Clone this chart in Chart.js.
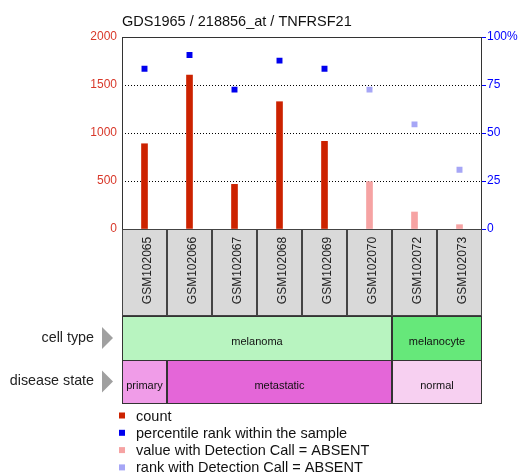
<!DOCTYPE html>
<html>
<head>
<meta charset="utf-8">
<script src="https://cdn.jsdelivr.net/npm/chart.js@4/dist/chart.umd.min.js"></script>
<style>
  html, body { margin: 0; padding: 0; background: #fff; }
  canvas { display: block; }
</style>
</head>
<body>
<canvas id="c" width="518" height="474"></canvas>
<script>
// ---- data ----
const titleText = 'GDS1965 / 218856_at / TNFRSF21';
const samples = ['GSM102065', 'GSM102066', 'GSM102067', 'GSM102068', 'GSM102069', 'GSM102070', 'GSM102072', 'GSM102073'];
const counts = [888, 1604, 465, 1326, 913, 493, 177, 45];
const percentiles = [83.5, 90.6, 72.6, 87.7, 83.5, 72.6, 54.5, 30.9];
const absentCall = [false, false, false, false, false, true, true, true];
const cellType = ['melanoma', 'melanoma', 'melanoma', 'melanoma', 'melanoma', 'melanoma', 'melanocyte', 'melanocyte'];
const diseaseState = ['primary', 'metastatic', 'metastatic', 'metastatic', 'metastatic', 'metastatic', 'normal', 'normal'];
const countTicks = [0, 500, 1000, 1500, 2000];
const rankTicks = [0, 25, 50, 75, 100];
const legendLabels = ['count', 'percentile rank within the sample', 'value with Detection Call = ABSENT', 'rank with Detection Call = ABSENT'];

// ---- styles ----
const FONT = '"Liberation Sans", Arial, sans-serif';
const colors = {
  count: '#cc2200',
  rank: '#0000ee',
  countAbsent: '#f6a3a3',
  rankAbsent: '#a6a6f6',
  leftTick: '#d8382a',
  rightTick: '#0000ff'
};
const groupColors = {
  melanoma: '#b8f4c0',
  melanocyte: '#66e87a',
  primary: '#f09ce8',
  metastatic: '#e466d8',
  normal: '#f7d0f1'
};

const presentCounts = counts.map((v, i) => absentCall[i] ? null : v);
const absentCounts = counts.map((v, i) => absentCall[i] ? v : null);
const presentRanks = percentiles.map((v, i) => absentCall[i] ? null : v);
const absentRanks = percentiles.map((v, i) => absentCall[i] ? v : null);

// contiguous runs of equal values -> [{label, from, to}]
function runs(arr) {
  const out = [];
  arr.forEach((v, i) => {
    const last = out[out.length - 1];
    if (last && last.label === v) last.to = i; else out.push({ label: v, from: i, to: i });
  });
  return out;
}

const decorations = {
  id: 'decorations',
  afterDraw(chart) {
    const ctx = chart.ctx;
    const area = chart.chartArea;
    const xs = chart.scales.x;
    const band = (area.right - area.left) / samples.length;
    const colLeft = i => xs.getPixelForValue(i) - band / 2;
    const colRight = i => xs.getPixelForValue(i) + band / 2;

    ctx.save();

    // title
    ctx.fillStyle = '#111';
    ctx.font = '14.5px ' + FONT;
    ctx.textAlign = 'left';
    ctx.textBaseline = 'alphabetic';
    ctx.fillText(titleText, area.left, 26);

    // plot frame
    ctx.strokeStyle = '#333';
    ctx.lineWidth = 1;
    ctx.strokeRect(Math.round(area.left) + 0.5, Math.round(area.top) + 0.5,
      Math.round(area.right - area.left) - 1, Math.round(area.bottom - area.top));

    // sample name boxes
    const boxTop = area.bottom + 0.5;
    const boxBottom = 315.5;
    samples.forEach((name, i) => {
      const x0 = Math.round(colLeft(i)) + 0.5;
      const x1 = Math.round(colRight(i)) - 0.5;
      ctx.fillStyle = '#d9d9d9';
      ctx.fillRect(x0, boxTop, x1 - x0, boxBottom - boxTop);
      ctx.strokeStyle = '#444';
      ctx.strokeRect(x0, boxTop, x1 - x0, boxBottom - boxTop);
      ctx.save();
      ctx.translate(xs.getPixelForValue(i) + 3, (boxTop + boxBottom) / 2 - 2);
      ctx.rotate(-Math.PI / 2);
      ctx.fillStyle = '#222';
      ctx.font = '12px ' + FONT;
      ctx.textAlign = 'center';
      ctx.textBaseline = 'middle';
      ctx.fillText(name, 0, 0);
      ctx.restore();
    });

    // annotation rows
    const rows = [
      { title: 'cell type', values: cellType, top: 316, bottom: 360 },
      { title: 'disease state', values: diseaseState, top: 360, bottom: 403 }
    ];
    rows.forEach(row => {
      runs(row.values).forEach(r => {
        const x0 = Math.round(colLeft(r.from)) + 0.5;
        const x1 = Math.round(colRight(r.to)) - 0.5;
        ctx.fillStyle = groupColors[r.label];
        ctx.fillRect(x0, row.top + 0.5, x1 - x0, row.bottom - row.top);
        ctx.strokeStyle = '#333';
        ctx.strokeRect(x0, row.top + 0.5, x1 - x0, row.bottom - row.top);
        ctx.fillStyle = '#111';
        ctx.font = '11px ' + FONT;
        ctx.textAlign = 'center';
        ctx.textBaseline = 'middle';
        ctx.fillText(r.label, (x0 + x1) / 2, (row.top + row.bottom) / 2 + 4);
      });
      const cy = (row.top + row.bottom) / 2;
      ctx.fillStyle = '#222';
      ctx.font = '14.3px ' + FONT;
      ctx.textAlign = 'right';
      ctx.textBaseline = 'middle';
      ctx.fillText(row.title, 94, cy);
      ctx.fillStyle = '#a0a0a0';
      ctx.beginPath();
      ctx.moveTo(102, cy - 11);
      ctx.lineTo(113, cy);
      ctx.lineTo(102, cy + 11);
      ctx.closePath();
      ctx.fill();
    });

    // legend
    const legendColors = [colors.count, colors.rank, colors.countAbsent, colors.rankAbsent];
    legendLabels.forEach((label, i) => {
      const cy = 415.5 + i * 17.3;
      ctx.fillStyle = legendColors[i];
      ctx.fillRect(119, cy - 3, 6, 6);
      ctx.fillStyle = '#111';
      ctx.font = '14.5px ' + FONT;
      ctx.textAlign = 'left';
      ctx.textBaseline = 'middle';
      ctx.fillText(label, 136, cy + 1);
    });

    ctx.restore();
  }
};

new Chart(document.getElementById('c'), {
  data: {
    labels: samples,
    datasets: [
      { type: 'line', label: legendLabels[1], data: presentRanks, yAxisID: 'y1', showLine: false,
        pointStyle: 'rect', pointRadius: 4.2, pointBackgroundColor: colors.rank, pointBorderWidth: 0, order: 0 },
      { type: 'line', label: legendLabels[3], data: absentRanks, yAxisID: 'y1', showLine: false,
        pointStyle: 'rect', pointRadius: 4.2, pointBackgroundColor: colors.rankAbsent, pointBorderWidth: 0, order: 0 },
      { type: 'bar', label: legendLabels[0], data: presentCounts, yAxisID: 'y', backgroundColor: colors.count,
        barThickness: 6, grouped: false, order: 1 },
      { type: 'bar', label: legendLabels[2], data: absentCounts, yAxisID: 'y', backgroundColor: colors.countAbsent,
        barThickness: 6, grouped: false, order: 1 }
    ]
  },
  options: {
    responsive: false,
    animation: false,
    layout: { padding: { top: 37, bottom: 245, left: 0, right: 0 } },
    plugins: { legend: { display: false }, tooltip: { enabled: false }, title: { display: false } },
    scales: {
      x: { type: 'category', display: false, offset: true },
      y: {
        position: 'left', min: 0, max: 2000,
        afterBuildTicks: s => { s.ticks = countTicks.map(v => ({ value: v })); },
        ticks: { color: colors.leftTick, font: { family: FONT, size: 12 }, padding: 5,
          callback: v => String(v) },
        grid: {
          drawTicks: false, lineWidth: 1,
          color: c => (c.tick && c.tick.value > 0 && c.tick.value < 2000) ? '#000' : 'rgba(0,0,0,0)'
        },
        border: { display: false, dash: [1, 2] },
        afterFit: s => { s.width = 122; }
      },
      y1: {
        position: 'right', min: 0, max: 100,
        afterBuildTicks: s => { s.ticks = rankTicks.map(v => ({ value: v })); },
        ticks: { color: colors.rightTick, font: { family: FONT, size: 12 }, padding: 1,
          callback: v => v === 100 ? '100%' : String(v) },
        grid: { drawOnChartArea: false, drawTicks: true, tickLength: 4, tickColor: colors.rightTick },
        border: { display: false },
        afterFit: s => { s.width = 36; }
      }
    }
  },
  plugins: [decorations]
});
</script>
</body>
</html>
